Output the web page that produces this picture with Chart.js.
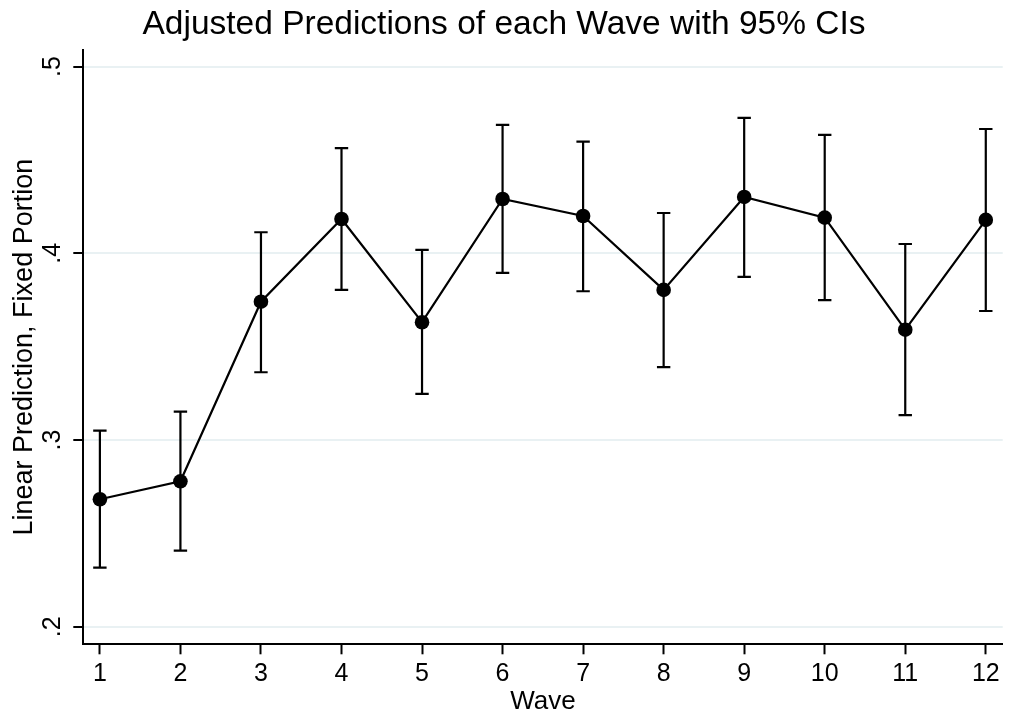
<!DOCTYPE html>
<html>
<head>
<meta charset="utf-8">
<title>Adjusted Predictions of each Wave</title>
<script src="https://cdn.jsdelivr.net/npm/chart.js@4/dist/chart.umd.min.js"></script>
<style>
  html, body { margin: 0; padding: 0; background: #fff; }
  #wrap { width: 1010px; height: 715px; }
</style>
</head>
<body>
<div id="wrap"><canvas id="waveChart"></canvas></div>
<script>
// values
var waves = [1, 2, 3, 4, 5, 6, 7, 8, 9, 10, 11, 12];
var predicted = [0.2683, 0.2779, 0.3741, 0.4184, 0.3631, 0.4291, 0.4200, 0.3804, 0.4302, 0.4191, 0.3591, 0.4179];
var ciUpper = [0.3050, 0.3152, 0.4113, 0.4563, 0.4018, 0.4688, 0.4598, 0.4216, 0.4725, 0.4634, 0.4050, 0.4666];
var ciLower = [0.2317, 0.2408, 0.3363, 0.3804, 0.3247, 0.3895, 0.3797, 0.3390, 0.3874, 0.3749, 0.3133, 0.3691];
var yTicks = [0.2, 0.3, 0.4, 0.5];

var fontFamily = '"Liberation Sans", Arial, Helvetica, sans-serif';

//draws the 95% CI bars through the chart scales
var errorBars = {
    id: 'errorBars',
    beforeDatasetsDraw: function(chart) {
        var ctx = chart.ctx;
        var xs = chart.scales.x;
        var ys = chart.scales.y;
        ctx.save();
        ctx.strokeStyle = '#000';
        ctx.lineWidth = 2.2;
        for (var i = 0; i < waves.length; i++) {
            var x = xs.getPixelForValue(waves[i]);
            var top = ys.getPixelForValue(ciUpper[i]);
            var bot = ys.getPixelForValue(ciLower[i]);
            ctx.beginPath();
            ctx.moveTo(x, top);
            ctx.lineTo(x, bot);
            ctx.moveTo(x - 6.7, top);
            ctx.lineTo(x + 6.7, top);
            ctx.moveTo(x - 6.7, bot);
            ctx.lineTo(x + 6.7, bot);
            ctx.stroke();
        }
        ctx.restore();
    }
};

var points = waves.map(function(w, i) { return {x: w, y: predicted[i]}; });

var chart = new Chart(document.getElementById('waveChart'), {
    type: 'line',
    data: {
        datasets: [{
            label: 'Linear Prediction',
            data: points,
            borderColor: '#000',
            backgroundColor: '#000',
            borderWidth: 2.2,
            pointRadius: 7.3,
            pointBackgroundColor: '#000',
            pointBorderWidth: 0,
            tension: 0
        }]
    },
    options: {
        responsive: true,
        maintainAspectRatio: false,
        animation: false,
        layout: { padding: { left: 0, right: 2, top: 0, bottom: 0 } },
        plugins: {
            legend: { display: false },
            tooltip: { enabled: false },
            title: {
                display: true,
                text: 'Adjusted Predictions of each Wave with 95% CIs',
                color: '#000',
                font: { family: fontFamily, size: 33.5, weight: 'normal', lineHeight: 1.2 },
                padding: { top: 5, bottom: 4.8 }
            }
        },
        scales: {
            x: {
                type: 'linear',
                min: 0.794,
                max: 12.21,
                afterBuildTicks: function(scale) {
                    scale.ticks = waves.map(function(v) { return {value: v}; });
                },
                afterFit: function(scale) { scale.height = 70.7; },
                grid: {
                    drawOnChartArea: false,
                    drawTicks: true,
                    tickLength: 10,
                    tickColor: '#000',
                    tickWidth: 2
                },
                border: { display: true, color: '#000', width: 2 },
                ticks: {
                    color: '#000',
                    padding: 5,
                    maxRotation: 0,
                    font: { family: fontFamily, size: 25 },
                    callback: function(v) { return String(v); }
                },
                title: {
                    display: true,
                    text: 'Wave',
                    color: '#000',
                    font: { family: fontFamily, size: 26, lineHeight: 1 },
                    padding: { top: 0, bottom: 0 }
                }
            },
            y: {
                min: 0.1906,
                max: 0.5089,
                afterBuildTicks: function(scale) {
                    scale.ticks = yTicks.map(function(v) { return {value: v}; });
                },
                afterFit: function(scale) { scale.width = 83.3; },
                grid: {
                    color: '#e9f1f3',
                    lineWidth: 2,
                    drawTicks: true,
                    tickLength: 10,
                    tickColor: '#000',
                    tickWidth: 2
                },
                border: { display: true, color: '#000', width: 2 },
                ticks: {
                    color: '#000',
                    padding: 10,
                    minRotation: 90,
                    maxRotation: 90,
                    crossAlign: 'center',
                    font: { family: fontFamily, size: 25 },
                    callback: function(v) { return v.toFixed(1).replace(/^0/, ''); }
                },
                title: {
                    display: true,
                    text: 'Linear Prediction, Fixed Portion',
                    color: '#000',
                    font: { family: fontFamily, size: 27, lineHeight: 1.2 },
                    padding: { top: 8, bottom: 0 }
                }
            }
        }
    },
    plugins: [errorBars]
});
</script>
</body>
</html>
